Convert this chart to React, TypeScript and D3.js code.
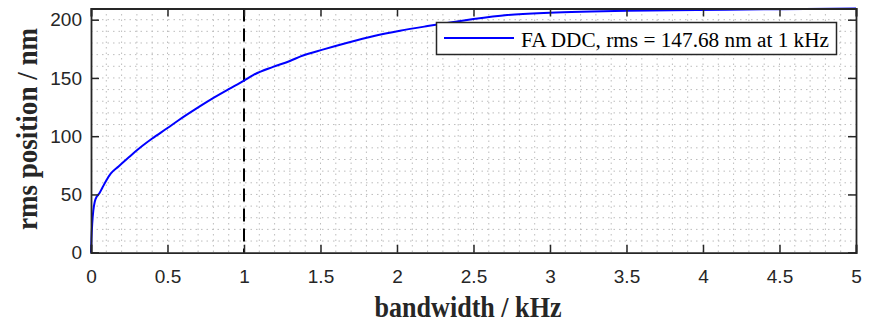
import React, { useRef, useEffect } from 'react';
import * as d3 from 'd3';

// bandwidth in kHz and cumulative rms position in nm
const bandwidth = [0, 0.003, 0.008, 0.015, 0.025, 0.037, 0.055, 0.075, 0.1, 0.13, 0.18, 0.24, 0.31, 0.4, 0.5, 0.57, 0.68, 0.79, 0.9, 1.0,
  1.06, 1.19, 1.3, 1.37, 1.52, 1.67, 1.85, 2.02, 2.2, 2.37, 2.5, 2.72, 3.0, 3.27, 3.5, 3.96, 4.5, 5.0];
const rmsPos = [0, 12, 25, 36, 44, 48, 51, 56, 62, 68, 74, 81, 89, 98, 107, 113.5, 123, 132, 140.3, 147.7,
  152.5, 159.5, 164.5, 168.5, 174.5, 180, 186, 190.5, 194.5, 198, 200.5, 204, 206, 207, 207.7, 208.3, 209, 209.6];

const xTicks = [0, 0.5, 1, 1.5, 2, 2.5, 3, 3.5, 4, 4.5, 5];
const yTicks = [0, 50, 100, 150, 200];
const markerFreq = 1;
const legendLabel = 'FA DDC, rms = 147.68 nm at 1 kHz';

const W = 872, H = 321;
const margin = { left: 91, right: 16, top: 8.5, bottom: 68.3 };
const axisColor = '#262626';

const App = () => {
  const svgRef = useRef(null);

  useEffect(() => {
    const svg = d3.select(svgRef.current);
    svg.selectAll('*').remove();
    const iw = W - margin.left - margin.right;
    const ih = H - margin.top - margin.bottom;

    const x = d3.scaleLinear().domain([0, 5]).range([0, iw]);
    const y = d3.scaleLinear().domain([0, d3.max(rmsPos)]).range([ih, 0]);

    const g = svg.append('g').attr('transform', `translate(${margin.left},${margin.top})`);

    // minor grid (dotted)
    const grid = g.append('g').attr('stroke', '#bdbdbd').attr('stroke-width', 1).attr('stroke-dasharray', '1.5,4');
    grid.selectAll('.vx').data(d3.range(1, 50).map(i => i / 10)).join('line')
      .attr('x1', d => x(d)).attr('x2', d => x(d)).attr('y1', 0).attr('y2', ih);
    grid.selectAll('.hy').data(d3.range(10, 210, 10)).join('line')
      .attr('x1', 0).attr('x2', iw).attr('y1', d => y(d)).attr('y2', d => y(d));

    // 1 kHz marker
    g.append('line')
      .attr('x1', x(markerFreq)).attr('x2', x(markerFreq)).attr('y1', 0).attr('y2', ih)
      .attr('stroke', '#000').attr('stroke-width', 2).attr('stroke-dasharray', '13,7');

    const pts = bandwidth.map((b, i) => [b, rmsPos[i]]);
    g.append('path')
      .datum(pts)
      .attr('fill', 'none')
      .attr('stroke', '#0000ff')
      .attr('stroke-width', 2)
      .attr('d', d3.line().x(d => x(d[0])).y(d => y(d[1])).curve(d3.curveMonotoneX));

    // axes box with inward ticks
    const tickFont = '"Liberation Sans", Arial, sans-serif';
    g.append('g').attr('transform', `translate(0,${ih})`)
      .call(d3.axisBottom(x).tickValues(xTicks).tickSize(-8).tickPadding(17).tickFormat(d3.format('')));
    g.append('g').attr('transform', `translate(0,0)`)
      .call(d3.axisTop(x).tickValues(xTicks).tickSize(-8).tickFormat(() => ''));
    g.append('g')
      .call(d3.axisLeft(y).tickValues(yTicks).tickSize(-8).tickPadding(9));
    g.append('g').attr('transform', `translate(${iw},0)`)
      .call(d3.axisRight(y).tickValues(yTicks).tickSize(-8).tickFormat(() => ''));

    g.selectAll('.domain').attr('stroke', axisColor).attr('stroke-width', 1.8);
    g.selectAll('.tick line').attr('stroke', axisColor).attr('stroke-width', 1.5);
    g.selectAll('.tick text').attr('fill', axisColor).style('font-family', tickFont).style('font-size', '19px');

    // legend
    const lg = svg.append('g');
    lg.append('rect').attr('x', 436.5).attr('y', 22.5).attr('width', 400).attr('height', 32)
      .attr('fill', '#fff').attr('stroke', axisColor).attr('stroke-width', 1.5);
    lg.append('line').attr('x1', 444).attr('x2', 514).attr('y1', 38).attr('y2', 38)
      .attr('stroke', '#0000ff').attr('stroke-width', 2);
    lg.append('text').attr('x', 521).attr('y', 46.5)
      .attr('textLength', 308).attr('lengthAdjust', 'spacingAndGlyphs')
      .style('font-family', '"Liberation Serif", "Times New Roman", serif').style('font-size', '20px')
      .attr('fill', '#000').text(legendLabel);

    // axis titles
    svg.append('text').attr('x', 468).attr('y', 316.5).attr('text-anchor', 'middle')
      .attr('textLength', 187).attr('lengthAdjust', 'spacingAndGlyphs')
      .style('font-family', '"Liberation Serif", "Times New Roman", serif').style('font-size', '29px')
      .style('font-weight', 'bold').attr('fill', axisColor).text('bandwidth / kHz');
    svg.append('text').attr('transform', 'translate(36.5,129) rotate(-90)').attr('text-anchor', 'middle')
      .attr('textLength', 202).attr('lengthAdjust', 'spacingAndGlyphs')
      .style('font-family', '"Liberation Serif", "Times New Roman", serif').style('font-size', '29px')
      .style('font-weight', 'bold').attr('fill', axisColor).text('rms position / nm');
  }, []);

  return (
    <svg ref={svgRef} width={W} height={H} style={{ position: 'absolute', left: 0, top: 0, background: '#fff' }} />
  );
};

export default App;
